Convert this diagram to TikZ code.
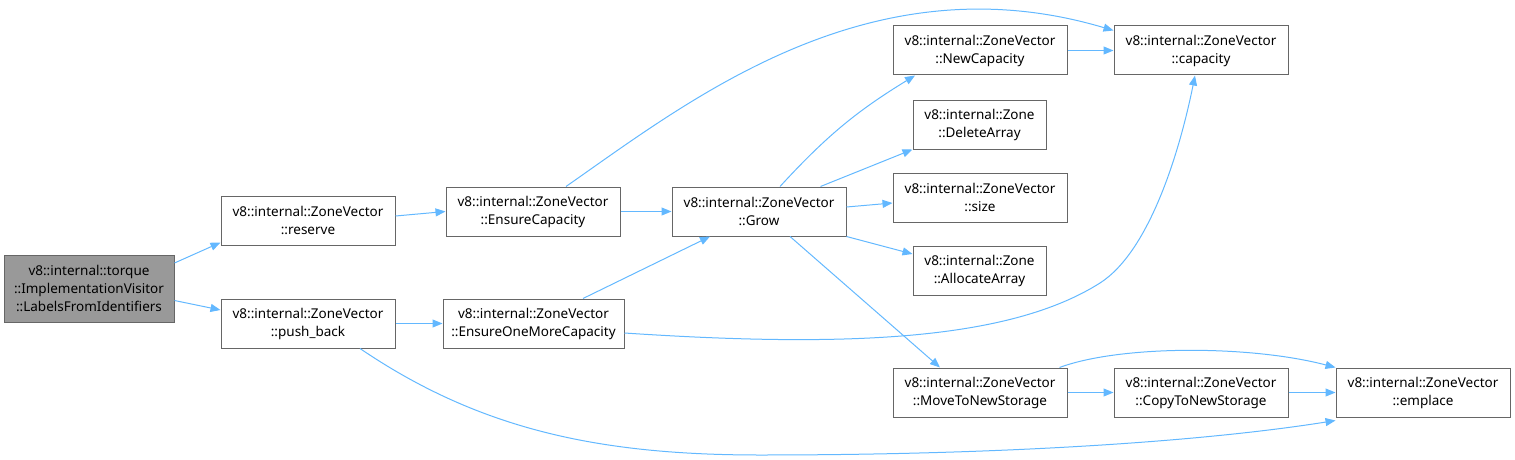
\documentclass[tikz,border=0pt]{standalone}
\usepackage{fontspec}
\setmainfont{Noto Sans}
\usepackage{tikz}
\usetikzlibrary{arrows.meta,calc,positioning}
\definecolor{edgeblue}{HTML}{63B8FF}
\definecolor{boxgray}{HTML}{666666}
\definecolor{rootgray}{HTML}{999999}

\begin{document}
\begin{tikzpicture}[x=1pt,y=-1pt,
  fn/.style={draw=boxgray,line width=1pt,fill=white,align=center,minimum height=49pt,inner sep=0pt,font=\fontsize{13.5}{18}\selectfont},
  call/.style={draw=edgeblue,line width=1pt,-{Triangle[length=10pt,width=8pt]}}]
  \useasboundingbox (0,0) rectangle (1515,460);
  \node[fn,fill=rootgray,minimum width=170pt,minimum height=67pt] (lfi) at (89,288.5) {v8::internal::torque\\::ImplementationVisitor\\::LabelsFromIdentifiers};
  \node[fn,minimum width=174pt] (reserve) at (308,220.5) {v8::internal::ZoneVector\\::reserve};
  \node[fn,minimum width=174pt] (pushback) at (308,323.5) {v8::internal::ZoneVector\\::push\_back};
  \node[fn,minimum width=174pt] (ensure) at (533,211.5) {v8::internal::ZoneVector\\::EnsureCapacity};
  \node[fn,minimum width=181pt] (ensureone) at (533.5,323.5) {v8::internal::ZoneVector\\::EnsureOneMoreCapacity};
  \node[fn,minimum width=174pt] (grow) at (759,211.5) {v8::internal::ZoneVector\\::Grow};
  \node[fn,minimum width=174pt] (newcap) at (980,50.5) {v8::internal::ZoneVector\\::NewCapacity};
  \node[fn,minimum width=133pt] (delarr) at (979.5,124.5) {v8::internal::Zone\\::DeleteArray};
  \node[fn,minimum width=174pt] (size) at (980,197.5) {v8::internal::ZoneVector\\::size};
  \node[fn,minimum width=133pt] (allocarr) at (979.5,270.5) {v8::internal::Zone\\::AllocateArray};
  \node[fn,minimum width=174pt] (move) at (980,392.5) {v8::internal::ZoneVector\\::MoveToNewStorage};
  \node[fn,minimum width=174pt] (capacity) at (1201,50.5) {v8::internal::ZoneVector\\::capacity};
  \node[fn,minimum width=174pt] (copy) at (1201,392.5) {v8::internal::ZoneVector\\::CopyToNewStorage};
  \node[fn,minimum width=174pt] (emplace) at (1423,392.5) {v8::internal::ZoneVector\\::emplace};

  \draw[call] ([yshift=25.5pt]lfi.east) -- ([yshift=3pt]reserve.south west);
  \draw[call] ([yshift=-12pt]lfi.east) -- ([yshift=13.5pt]pushback.west);
  \draw[call] ([yshift=4.5pt]reserve.east) -- (ensure.west);
  \draw[call] (pushback.east) -- (ensureone.west);
  \draw[call] ([xshift=52pt]pushback.south) .. controls (480,430) and (600,455) .. (760,455)
    .. controls (1000,455) and (1200,442) .. ([yshift=-3pt]emplace.south west);
  \draw[call] (ensure.east) -- (grow.west);
  \draw[call] ([xshift=33pt]ensure.north) .. controls (690,100) and (870,-42) .. ([yshift=-5pt]capacity.north west);
  \draw[call] ([xshift=49.5pt]ensureone.north) -- ([xshift=-49pt]grow.south);
  \draw[call] ([yshift=-9.5pt]ensureone.east) .. controls (850,348) and (1010,340) .. (1100,283)
    .. controls (1150,251) and (1180,150) .. ([xshift=-6pt]capacity.south);
  \draw[call] ([xshift=21pt]grow.north) to[bend left=8] ([xshift=-65pt]newcap.south);
  \draw[call] ([xshift=-26pt]grow.north east) -- (delarr.south west);
  \draw[call] ([yshift=4.5pt]grow.east) -- ([yshift=-5.5pt]size.west);
  \draw[call] (grow.south east) -- ([yshift=16.5pt]allocarr.west);
  \draw[call] ([xshift=31pt]grow.south) -- ([xshift=-40pt]move.north);
  \draw[call] (newcap.east) -- (capacity.west);
  \draw[call] (move.east) -- (copy.west);
  \draw[call] ([xshift=-8pt]move.north east) .. controls (1120,345) and (1250,345) .. (emplace.north west);
  \draw[call] (copy.east) -- (emplace.west);
\end{tikzpicture}
\end{document}
